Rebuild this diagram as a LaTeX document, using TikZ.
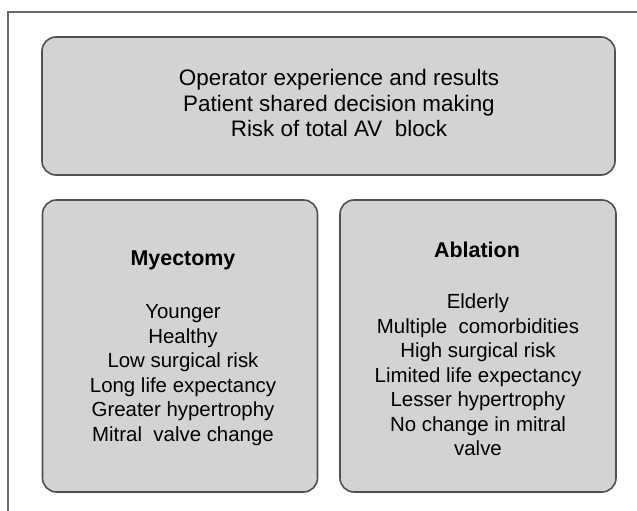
\documentclass[tikz,border=0pt]{standalone}
\usepackage{fontspec}
\setmainfont{Liberation Sans}
\definecolor{boxfill}{HTML}{D3D3D3}
\definecolor{boxline}{HTML}{505050}
\definecolor{frameline}{HTML}{6A6A6A}
\tikzset{
  panel/.style={draw=boxline, fill=boxfill, line width=1.6bp, rounded corners=14bp, inner sep=0pt},
  heading/.style={font=\fontsize{21.5}{26}\selectfont\bfseries, inner sep=0pt},
  items/.style={align=center, font=\fontsize{20.5}{24.6}\selectfont, inner sep=0pt}
}
\begin{document}
\begin{tikzpicture}[x=1bp, y=-1bp]
            \useasboundingbox (0, 0) rectangle (637, 511);
            \draw[frameline, line width=2bp] (8, 511) -- (8, 12) -- (637, 12);
            % top panel
            \node[panel, minimum width=573bp, minimum height=138bp] (factors) at (328.5, 106) {};
            \node[items, font=\fontsize{22.5}{26}\selectfont] (factorstext) at (339, 103)
                {Operator experience and results\\Patient shared decision making\\Risk of total AV\ \ block};
            % left panel
            \node[panel, minimum width=275bp, minimum height=292bp] (myectomy) at (180, 346) {};
            \node[heading] (myectomytitle) at (183, 260) {Myectomy};
            \node[items] (myectomylist) at (183, 375)
                {Younger\\Healthy\\Low surgical risk\\Long life expectancy\\Greater hypertrophy\\Mitral\ \ valve change};
            % right panel
            \node[panel, minimum width=276bp, minimum height=292bp] (ablation) at (478, 346) {};
            \node[heading] (ablationtitle) at (477, 250) {Ablation};
            \node[items] (ablationlist) at (478, 375)
                {Elderly\\Multiple\ \ comorbidities\\High\ surgical risk\\Limited\ life expectancy\\Lesser hypertrophy\\No\ change in mitral\\valve};
        \end{tikzpicture}
\end{document}
